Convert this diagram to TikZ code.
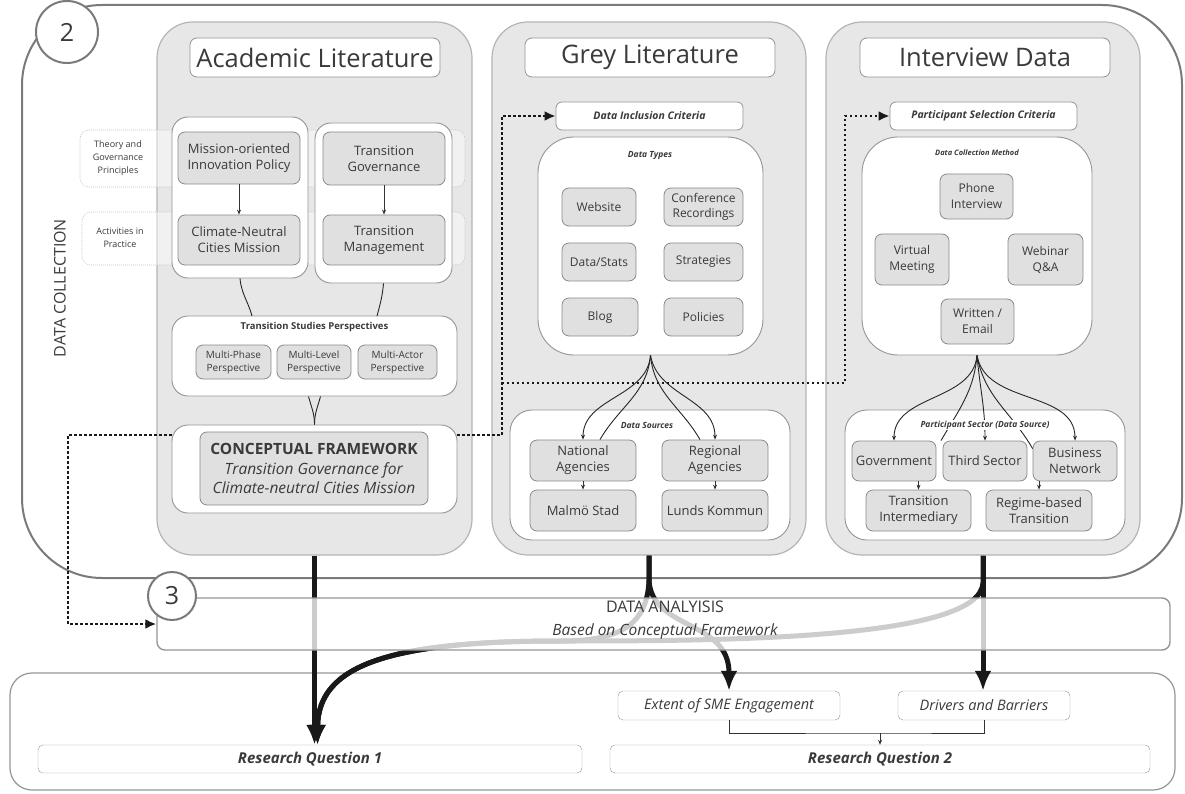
\documentclass[tikz,border=0pt]{standalone}
\usepackage{fontspec}
\setmainfont{Open Sans}
\usepackage{tikz}
\usetikzlibrary{arrows.meta,calc}
\definecolor{txt}{HTML}{3A3A3A}
\definecolor{colfill}{HTML}{E7E7E7}
\definecolor{colline}{HTML}{B4B4B4}
\definecolor{itemfill}{HTML}{E0E0E0}
\definecolor{itemline}{HTML}{8A8A8A}
\definecolor{boxline}{HTML}{959595}
\definecolor{frame}{HTML}{7A7A7A}

\begin{document}
\begin{tikzpicture}
	[x=1pt,y=-1pt,every node/.style={text=txt, inner sep=2pt, align=center}]
	\tikzstyle{col} = [draw=colline, fill=colfill, line width=1.2pt, rounded corners=36pt];
	\tikzstyle{ttl} = [draw=boxline, fill=white, rounded corners=7pt, line width=0.8pt, font=\fontsize{25.5}{30}\selectfont];
	\tikzstyle{grp} = [draw=boxline, fill=white, rounded corners=16pt, line width=0.9pt];
	\tikzstyle{band} = [draw=black!22, dash pattern=on 1pt off 1pt, fill=white, fill opacity=0.45, rounded corners=9pt, line width=0.6pt];
	\tikzstyle{item} = [draw=itemline, fill=itemfill, rounded corners=7pt, line width=0.8pt, font=\fontsize{13}{16}\selectfont];
	\tikzstyle{crit} = [draw=boxline, fill=white, rounded corners=6pt, line width=0.8pt, font=\fontsize{10.5}{13}\selectfont\bfseries\itshape];
	\tikzstyle{hd} = [font=\fontsize{8.5}{10}\selectfont\bfseries\itshape, fill=white, inner sep=1pt];
	\tikzstyle{sarr} = [line width=0.8pt, black!80, -{Stealth[length=5pt,width=4pt]}];
	\tikzstyle{fan} = [line width=0.9pt, black!85];
	\tikzstyle{big} = [line width=5pt, black!90, -{Latex[length=20pt,width=17pt]}];
	\tikzstyle{dots} = [line width=2.4pt, dash pattern=on 2.4pt off 2.6pt, black!90];
	\tikzstyle{num} = [circle, draw=frame, fill=white, line width=2pt, font=\fontsize{25}{28}\selectfont];

	\useasboundingbox (0,0) rectangle (1185,794);

	% data collection frame
	\draw[draw=frame, line width=2pt, rounded corners=80pt] (22,5) rectangle (1182,578);
	\node[rotate=90, font=\fontsize{16}{18}\selectfont] (dcol) at (60,288) {DATA COLLECTION};

	% columns
	\node[col, minimum width=315, minimum height=533] (acad) at (314.5,288.5) {};
	\node[col, minimum width=314, minimum height=533] (grey) at (649,288.5) {};
	\node[col, minimum width=314, minimum height=533] (intv) at (983,288.5) {};
	\node[ttl, minimum width=250, minimum height=39] (acadT) at (315,57.5) {Academic Literature};
	\node[ttl, minimum width=250, minimum height=39] (greyT) at (650,57.5) {Grey Literature};
	\node[ttl, minimum width=250, minimum height=39] (intvT) at (985,57.5) {Interview Data};

	% academic literature
	\node[band, minimum width=385, minimum height=57] (bandA) at (272.5,158.5) {};
	\node[band, minimum width=383, minimum height=53] (bandB) at (273.5,238.5) {};
	\node[font=\fontsize{9}{13}\selectfont] (bandAL) at (118,158) {Theory and\\Governance\\Principles};
	\node[font=\fontsize{9}{13}\selectfont] (bandBL) at (120,238) {Activities in\\Practice};
	\node[grp, minimum width=136, minimum height=161] (grp1) at (240,197.5) {};
	\node[grp, minimum width=137, minimum height=160] (grp2) at (383.5,203) {};
	\node[item, minimum width=122, minimum height=52] (mip) at (239,158) {Mission-oriented\\Innovation Policy};
	\node[item, minimum width=122, minimum height=50] (cnc) at (239,240) {Climate-Neutral\\Cities Mission};
	\node[item, minimum width=122, minimum height=53] (tg) at (384,158.5) {Transition\\Governance};
	\node[item, minimum width=122, minimum height=50] (tm) at (384,240) {Transition\\Management};
	\draw[sarr] (mip) -- (cnc);
	\draw[sarr] (tg) -- (tm);

	\node[grp, minimum width=285, minimum height=80] (tsp) at (314.5,356) {};
	\node[font=\fontsize{9.5}{11}\selectfont\bfseries] (tspT) at (314.5,327) {Transition Studies Perspectives};
	\node[item, minimum width=75, minimum height=34, font=\fontsize{10}{13}\selectfont] (mph) at (233.5,362) {Multi-Phase\\Perspective};
	\node[item, minimum width=74, minimum height=34, font=\fontsize{10}{13}\selectfont] (mlv) at (314,362) {Multi-Level\\Perspective};
	\node[item, minimum width=79, minimum height=34, font=\fontsize{10}{13}\selectfont] (mac) at (397.5,362) {Multi-Actor\\Perspective};
	\coordinate (tspA) at (252,316);
	\coordinate (tspB) at (377,316);
	\draw[fan] (grp1.south) to[out=-85,in=105] (tspA);
	\draw[fan] (grp2.south) to[out=-95,in=75] (tspB);

	\node[grp, minimum width=285, minimum height=88] (cfo) at (314.5,469) {};
	\node[item, minimum width=228, minimum height=73, font=\fontsize{15.5}{19.5}\selectfont] (cf) at (314,468.5)
		{\textbf{CONCEPTUAL FRAMEWORK}\\\textit{Transition Governance for}\\\textit{Climate-neutral Cities Mission}};
	\draw[fan] ([xshift=-6pt]tsp.south) to[out=-75,in=90] (cfo.north);
	\draw[fan] ([xshift=6pt]tsp.south) to[out=-105,in=90] (cfo.north);

	% grey literature
	\node[crit, minimum width=187, minimum height=28] (dic) at (649.5,116) {Data Inclusion Criteria};
	\node[grp, rounded corners=36pt, minimum width=225, minimum height=218] (dty) at (650.5,246) {};
	\node[hd] (dtyT) at (650,155) {Data Types};
	\node[item, minimum width=74, minimum height=38, font=\fontsize{12}{15}\selectfont] (web) at (599,207) {Website};
	\node[item, minimum width=79, minimum height=38, font=\fontsize{12}{15}\selectfont] (conf) at (703.5,207) {Conference\\Recordings};
	\node[item, minimum width=74, minimum height=38, font=\fontsize{12}{15}\selectfont] (dst) at (599,262) {Data/Stats};
	\node[item, minimum width=79, minimum height=38, font=\fontsize{12}{15}\selectfont] (strat) at (703.5,262) {Strategies};
	\node[item, minimum width=76, minimum height=38, font=\fontsize{12}{15}\selectfont] (blog) at (600,317) {Blog};
	\node[item, minimum width=79, minimum height=38, font=\fontsize{12}{15}\selectfont] (pol) at (703.5,317) {Policies};

	\node[grp, rounded corners=22pt, minimum width=280, minimum height=130] (dso) at (650,475) {};
	\node[item, minimum width=106, minimum height=41] (nat) at (583,460.5) {National\\Agencies};
	\node[item, minimum width=106, minimum height=41] (reg) at (715,460.5) {Regional\\Agencies};
	\node[item, minimum width=106, minimum height=41] (mal) at (583,510.5) {Malmö Stad};
	\node[item, minimum width=106, minimum height=41] (lun) at (715,510.5) {Lunds Kommun};
	\draw[sarr] (nat) -- (mal);
	\draw[sarr] (reg) -- (lun);
	\draw[fan, -{Stealth[length=5pt,width=4pt]}] (dty.south) to[out=-95,in=90] (nat.north);
	\draw[fan] (dty.south) to[out=-95,in=60] ([xshift=17pt]nat.north);
	\draw[fan] (dty.south) to[out=-85,in=120] ([xshift=-15pt]reg.north);
	\draw[fan, -{Stealth[length=5pt,width=4pt]}] (dty.south) to[out=-80,in=90] (reg.north);
	\node[hd] (dsoT) at (647,425) {Data Sources};

	% interview data
	\node[crit, minimum width=187, minimum height=28] (psc) at (983.5,116) {Participant Selection Criteria};
	\node[grp, rounded corners=36pt, minimum width=230, minimum height=218] (dcm) at (977,246) {};
	\node[hd, font=\fontsize{7.5}{9}\selectfont\bfseries\itshape] (dcmT) at (977,153) {Data Collection Method};
	\node[item, minimum width=73, minimum height=45, font=\fontsize{12}{16}\selectfont] (phone) at (976.5,196.5) {Phone\\Interview};
	\node[item, minimum width=74, minimum height=51, font=\fontsize{12}{16}\selectfont] (virt) at (912,259.5) {Virtual\\Meeting};
	\node[item, minimum width=75, minimum height=51, font=\fontsize{12}{16}\selectfont] (wqa) at (1045.5,259.5) {Webinar\\Q\&A};
	\node[item, minimum width=73, minimum height=45, font=\fontsize{12}{16}\selectfont] (writ) at (977.5,321.5) {Written /\\Email};

	\node[grp, rounded corners=22pt, minimum width=280, minimum height=130] (psec) at (985,475) {};
	\node[item, minimum width=84, minimum height=40] (gov) at (894,461) {Government};
	\node[item, minimum width=84, minimum height=40] (third) at (985,461) {Third Sector};
	\node[item, minimum width=84, minimum height=40] (bus) at (1075,461) {Business\\Network};
	\node[item, minimum width=105, minimum height=41] (tint) at (918.5,510.5) {Transition\\Intermediary};
	\node[item, minimum width=106, minimum height=41] (regb) at (1039,510.5) {Regime-based\\Transition};
	\draw[sarr] (tint.north |- gov.south) -- (tint.north);
	\draw[sarr] (regb.north |- bus.south) -- (regb.north);
	\draw[fan, -{Stealth[length=5pt,width=4pt]}] (dcm.south) to[out=-95,in=90] (gov.north);
	\draw[fan] (dcm.south) to[out=-95,in=60] ([xshift=-44pt]third.north);
	\draw[fan, -{Stealth[length=5pt,width=4pt]}] (dcm.south) to[out=-85,in=90] (third.north);
	\draw[fan] (dcm.south) to[out=-80,in=120] ([yshift=-8pt]bus.north west);
	\draw[fan, -{Stealth[length=5pt,width=4pt]}] (dcm.south) to[out=-80,in=90] (bus.north);
	\node[hd] (psecT) at (985,425) {Participant Sector (Data Source)};

	% outcome area
	\node[draw=boxline, line width=1.2pt, rounded corners=22pt, minimum width=1165, minimum height=117] (res) at (592.5,731.5) {};
	\node[draw=boxline, rounded corners=5pt, minimum width=544, minimum height=28, font=\fontsize{15}{17}\selectfont\bfseries\itshape] (rq1) at (310,759) {Research Question 1};
	\node[draw=boxline, rounded corners=5pt, minimum width=540, minimum height=28, font=\fontsize{15}{17}\selectfont\bfseries\itshape] (rq2) at (880,759) {Research Question 2};
	\node[draw=boxline, rounded corners=5pt, minimum width=222, minimum height=29, font=\fontsize{14.5}{16}\selectfont\itshape] (sme) at (729,705.5) {Extent of SME Engagement};
	\node[draw=boxline, rounded corners=5pt, minimum width=172, minimum height=29, font=\fontsize{14.5}{16}\selectfont\itshape] (drv) at (984,705.5) {Drivers and Barriers};
	\coordinate (brk) at (880,733);
	\draw[line width=0.8pt, black!80] (sme.south) |- (brk) -| (drv.south);
	\draw[sarr] (brk) -- (rq2.north);

	% flows into the results
	\coordinate (mrg) at (560,641);
	\draw[big] (acad.south) -- (acad.south |- rq1.north);
	\draw[big] (grey.south) -- ++(0,25) .. controls (647,625) and (620,641) .. (mrg)
		.. controls (390,641) and (318,665) .. ([xshift=3pt]acad.south |- rq1.north);
	\draw[big] (grey.south) -- ++(0,25) .. controls (652,630) and (729,620) .. (sme.north);
	\draw[big] (intv.south) -- ++(0,27) .. controls (981,640) and (720,641) .. (mrg)
		.. controls (390,641) and (318,665) .. ([xshift=3pt]acad.south |- rq1.north);
	\draw[big] (intv.south) -- (intv.south |- drv.north);

	% data analysis
	\node[draw=boxline, line width=1.4pt, fill=white, fill opacity=0.78, rounded corners=8pt, minimum width=1013, minimum height=52] (ana) at (663.5,624) {};
	\node[font=\fontsize{16}{18}\selectfont] (anaT) at (665,607) {DATA ANALYISIS};
	\node[font=\fontsize{15.5}{18}\selectfont\itshape] (anaS) at (665,631) {Based on Conceptual Framework};

	% dotted links
	\coordinate (d1) at (502,435);
	\coordinate (d2) at (502,383);
	\coordinate (d3) at (845,383);
	\coordinate (d4) at (68,435);
	\draw[dots, -{Latex[length=11pt,width=10pt]}] ([yshift=34pt]cfo.east) -- (d1) |- (dic.west);
	\draw[dots, -{Latex[length=11pt,width=10pt]}] (d2) -- (d3) |- (psc.west);
	\draw[dots, -{Latex[length=11pt,width=10pt]}] ([yshift=34pt]cfo.west) -- (d4) |- (ana.west);

	% step numbers
	\node[num, minimum size=62] (n2) at (67,32) {2};
	\node[num, minimum size=48] (n3) at (172,596) {3};
\end{tikzpicture}
\end{document}
